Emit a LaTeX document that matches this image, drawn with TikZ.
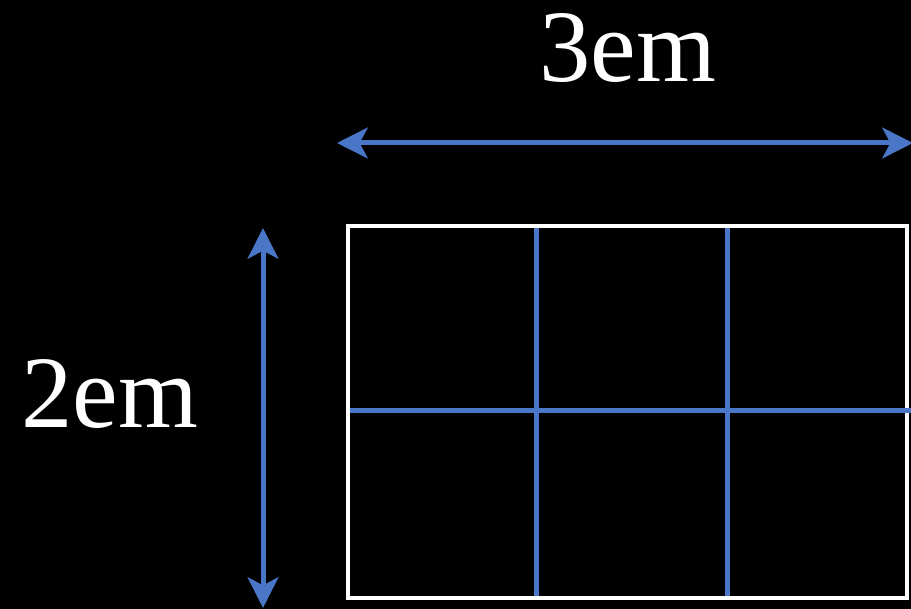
\documentclass[tikz,border=0pt]{standalone}
\usepackage{fontspec}
\setmainfont{Liberation Serif}
\usetikzlibrary{arrows.meta}

\definecolor{dimblue}{RGB}{74,118,200}

\begin{document}
\begin{tikzpicture}[x=0.75pt, y=-0.75pt,
  dimarrow/.style={draw=dimblue, fill=dimblue, line width=3.75pt, {Stealth[length=23pt, width=23pt, inset=6pt]}-{Stealth[length=23pt, width=23pt, inset=6pt]}},
  gridline/.style={draw=dimblue, line width=3.75pt},
  dimlabel/.style={text=white, inner sep=0pt, anchor=base, font=\fontsize{77}{77}\selectfont}]
% background
\fill[black] (0,0) rectangle (911,609);
\useasboundingbox (0,0) rectangle (911,609);

% the box
\coordinate (NW) at (348,226);
\coordinate (SE) at (907,598);
\draw[white, line width=3.5pt] (NW) rectangle (SE);

% grid lines
\coordinate (V1t) at (536,228);
\coordinate (V1b) at (536,596);
\coordinate (V2t) at (727,228);
\coordinate (V2b) at (727,596);
\coordinate (Hl) at (350,411);
\coordinate (Hr) at (911,411);
\draw[gridline] (V1t) -- (V1b);
\draw[gridline] (V2t) -- (V2b);
\draw[gridline] (Hl) -- (Hr);

% width
\coordinate (Wl) at (337,143);
\coordinate (Wr) at (913,143);
\draw[dimarrow] (Wl) -- (Wr);
\node[dimlabel] (W) at (628,82) {3em};

% height
\coordinate (Ht) at (263,228);
\coordinate (Hb) at (263,608);
\draw[dimarrow] (Ht) -- (Hb);
\node[dimlabel] (H) at (110,428) {2em};
\end{tikzpicture}
\end{document}
